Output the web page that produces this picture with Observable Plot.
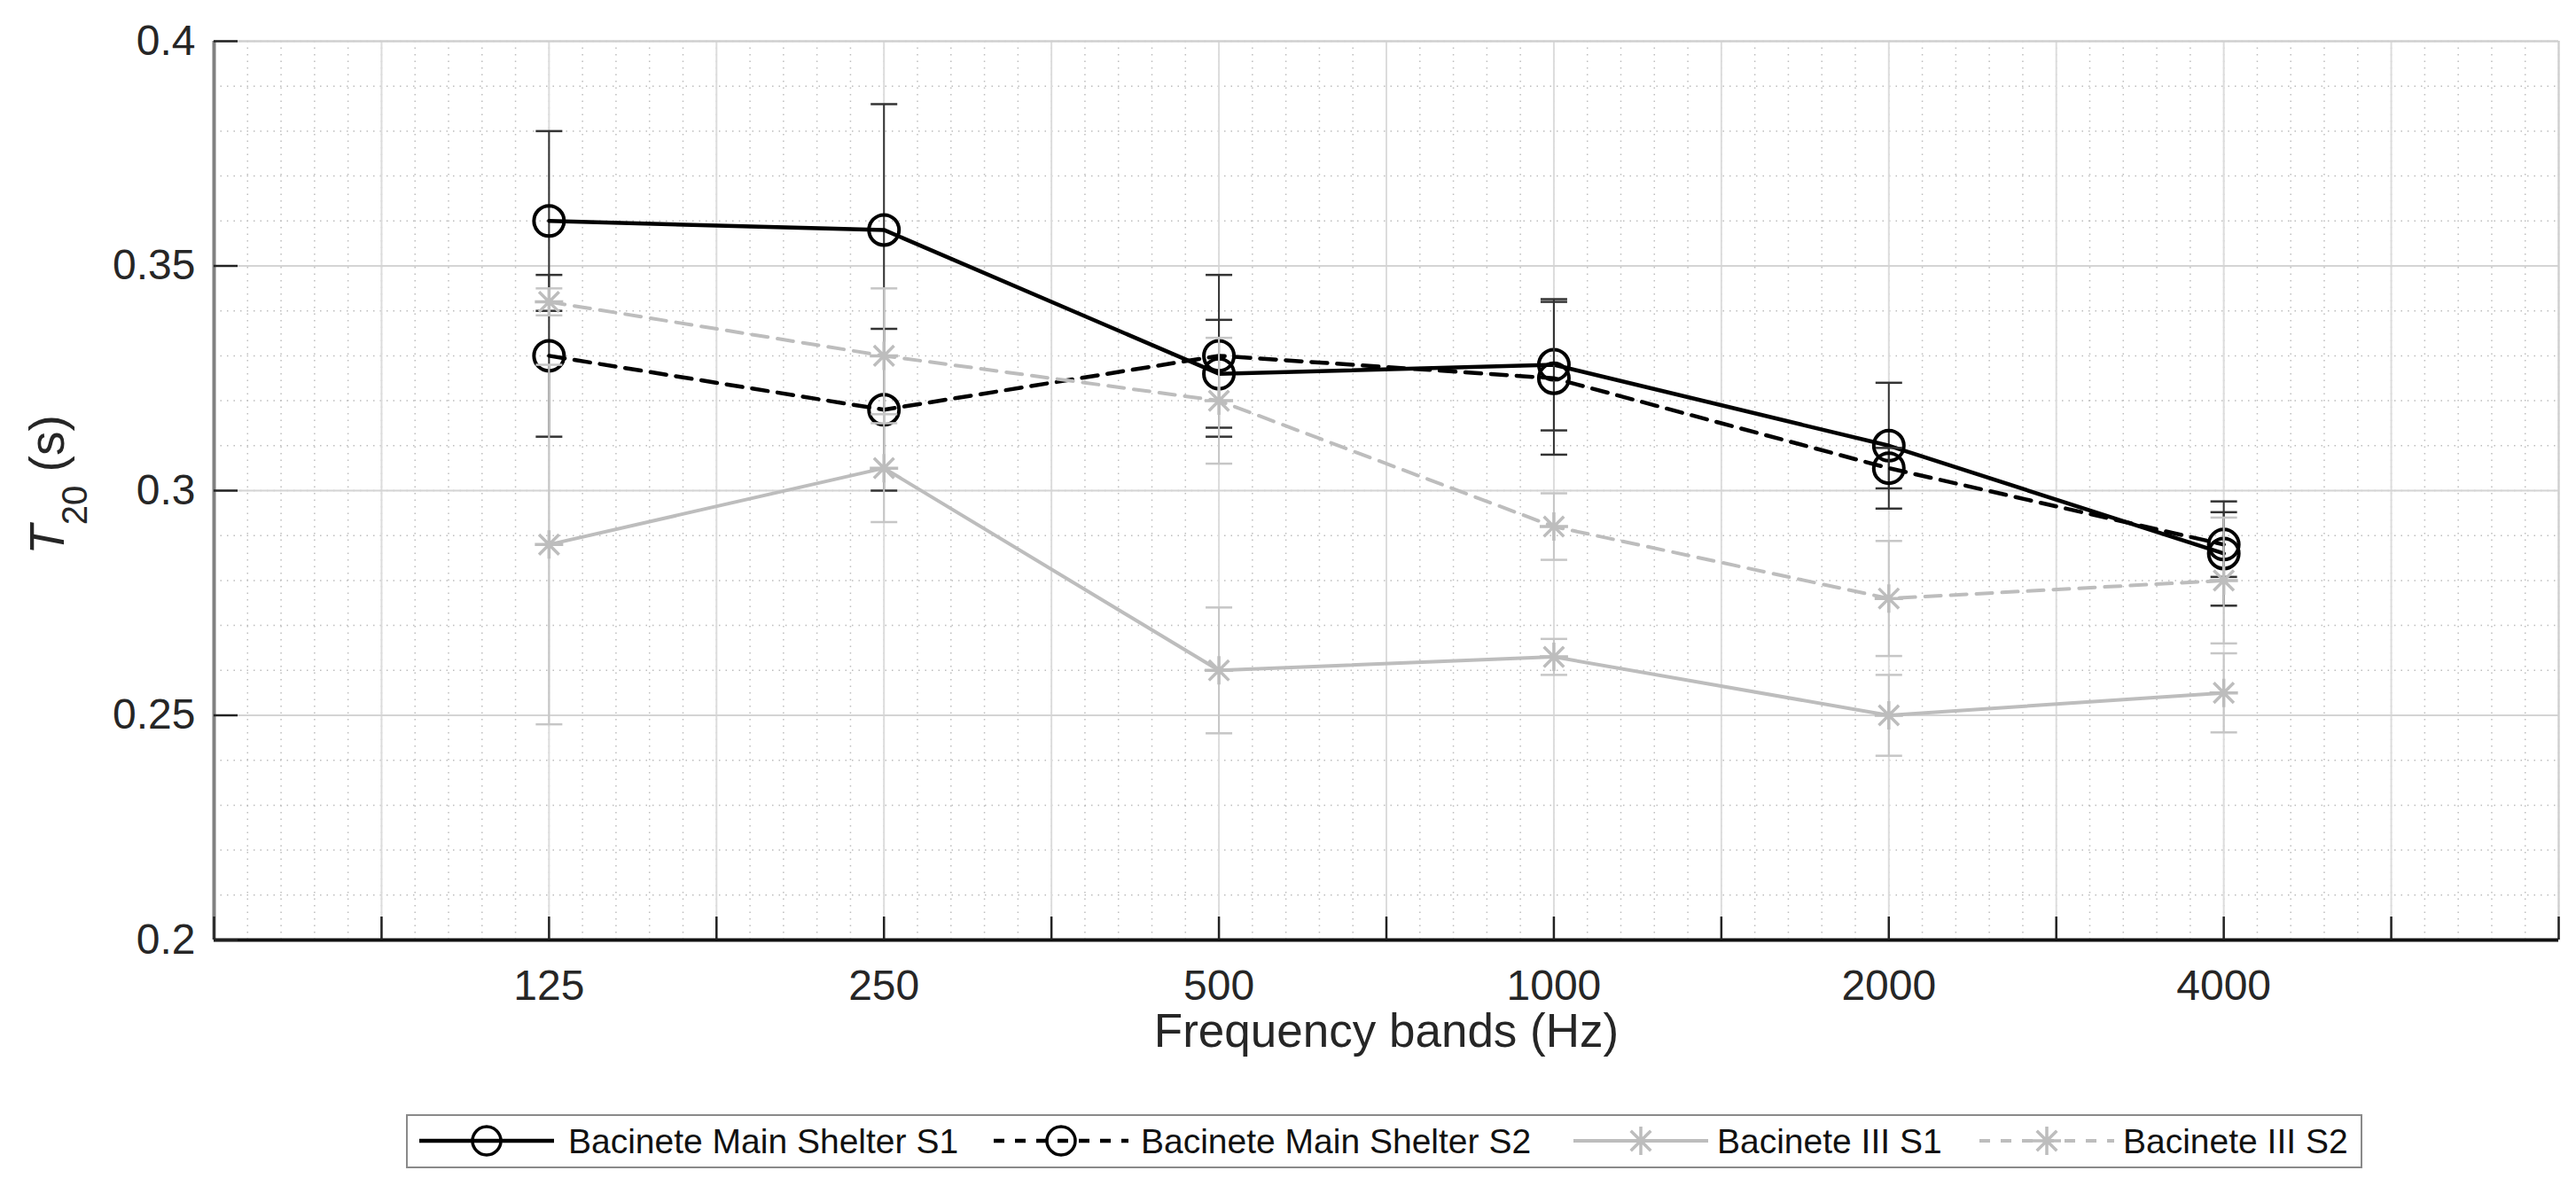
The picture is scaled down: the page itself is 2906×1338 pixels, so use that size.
<!DOCTYPE html>
<html><head><meta charset="utf-8">
<script src="https://cdn.jsdelivr.net/npm/d3@7"></script>
<script src="https://cdn.jsdelivr.net/npm/@observablehq/plot@0.6"></script>
<style>
body{margin:0;background:#fff;font-family:"Liberation Sans",Arial,Helvetica,sans-serif;}
#chart{width:2906px;position:relative;}
#legend{position:relative;margin-left:458px;margin-top:27px;width:2203px;height:57px;border:2px solid #8a8a8a;}
.sw{position:absolute;top:8px;}
.lt{position:absolute;top:6px;font-size:39px;color:#111;line-height:45px;white-space:nowrap;}
</style></head><body>
<div id="chart"></div>
<div id="legend"></div>
<script>
// ---- data ----
const bands = ["125", "250", "500", "1000", "2000", "4000"];
const seriesNames = ["Bacinete Main Shelter S1", "Bacinete Main Shelter S2", "Bacinete III S1", "Bacinete III S2"];
const mainS1 = [0.360, 0.358, 0.326, 0.328, 0.310, 0.286];
const mainS1Err = [0.020, 0.028, 0.012, 0.0146, 0.014, 0.0116];
const mainS2 = [0.330, 0.318, 0.330, 0.325, 0.305, 0.288];
const mainS2Err = [0.018, 0.018, 0.018, 0.017, 0.0045, 0.0072];
const iiiS1 = [0.288, 0.305, 0.260, 0.263, 0.250, 0.255];
const iiiS1Err = [0.040, 0.012, 0.014, 0.004, 0.009, 0.0088];
const iiiS2 = [0.342, 0.330, 0.320, 0.292, 0.276, 0.280];
const iiiS2Err = [0.003, 0.015, 0.014, 0.0074, 0.0128, 0.014];
const yTicks = [0.2, 0.25, 0.3, 0.35, 0.4];
const xDomain = [0, 7];
const yDomain = [0.2, 0.4];
const xLabel = "Frequency bands (Hz)";

// ---- layout / style ----
const W = 2906, H = 1230, mL = 241, mR = 20, mT = 46, mB = H - 1060;
const plotW = W - mL - mR, plotH = H - mT - mB;
const FONT = "Liberation Sans, Arial, Helvetica, sans-serif";
const TXT = "#262626";
const GRAY = "#bdbdbd";

const hline = {draw(ctx, size) {const r = Math.sqrt(size / Math.PI); ctx.moveTo(-r, 0); ctx.lineTo(r, 0);}};
const asterisk = {draw(ctx, size) {
  const r = Math.sqrt(size / Math.PI), d = r * Math.SQRT1_2;
  ctx.moveTo(-r, 0); ctx.lineTo(r, 0); ctx.moveTo(0, -r); ctx.lineTo(0, r);
  ctx.moveTo(-d, -d); ctx.lineTo(d, d); ctx.moveTo(-d, d); ctx.lineTo(d, -d);
}};

const styles = [
  {values: mainS1, err: mainS1Err, color: "#000", dash: null, symbol: "circle", bar: "#333", w: 4.5, r: 17},
  {values: mainS2, err: mainS2Err, color: "#000", dash: "18,11", symbol: "circle", bar: "#333", w: 4.5, r: 17},
  {values: iiiS1, err: iiiS1Err, color: GRAY, dash: null, symbol: asterisk, bar: "#c6c6c6", w: 4, r: 16},
  {values: iiiS2, err: iiiS2Err, color: GRAY, dash: "18,11", symbol: asterisk, bar: "#c6c6c6", w: 4, r: 16}
];

const xMajor = d3.range(0, 14.5, 1).map(d => d / 2);
const xMinor = d3.range(0, 70.5, 1).map(d => d / 10);
const yMinor = d3.range(20, 40.5, 1).map(d => d / 100);

const marks = [
  Plot.gridX({ticks: xMinor, stroke: "#bdbdbd", strokeOpacity: 1, strokeWidth: 1.5, strokeDasharray: "1.5,6"}),
  Plot.gridY({ticks: yMinor, stroke: "#bdbdbd", strokeOpacity: 1, strokeWidth: 1.5, strokeDasharray: "1.5,6"}),
  Plot.gridX({ticks: xMajor, stroke: "#dcdcdc", strokeOpacity: 1, strokeWidth: 2}),
  Plot.gridY({ticks: yTicks, stroke: "#d4d4d4", strokeOpacity: 1, strokeWidth: 2}),
  Plot.ruleY([yDomain[1]], {stroke: "#cfcfcf", strokeWidth: 2}),
  Plot.ruleX([xDomain[1]], {stroke: "#cfcfcf", strokeWidth: 2}),
  Plot.ruleX([xDomain[0]], {stroke: "#808080", strokeWidth: 4}),
  Plot.ruleY([yDomain[0]], {stroke: "#111", strokeWidth: 4}),
  Plot.tickY(yTicks, {y: d => d, stroke: "#222", strokeWidth: 2.5, insetRight: plotW - 27}),
  Plot.tickX(xMajor, {x: d => d, stroke: "#222", strokeWidth: 2.5, insetTop: plotH - 26}),
  Plot.axisY({ticks: yTicks, tickSize: 0, tickPadding: 21, tickFormat: d3.format("~g"), fontSize: 48, color: TXT, label: null}),
  Plot.axisX({ticks: [1, 2, 3, 4, 5, 6], tickSize: 0, tickPadding: 33, tickFormat: d => bands[d - 1], fontSize: 48, color: TXT, label: null}),
  Plot.text([xLabel], {frameAnchor: "bottom", dy: 120, fontSize: 53, fill: TXT})
];

styles.forEach((s, k) => {
  const rows = s.values.map((v, i) => ({x: i + 1, y: v, lo: v - s.err[i], hi: v + s.err[i]}));
  marks.push(
    Plot.ruleX(rows, {x: "x", y1: "lo", y2: "hi", stroke: s.bar, strokeWidth: 2}),
    Plot.dot(rows, {x: "x", y: "lo", symbol: hline, r: 15, stroke: s.bar, strokeWidth: 2.5}),
    Plot.dot(rows, {x: "x", y: "hi", symbol: hline, r: 15, stroke: s.bar, strokeWidth: 2.5}),
    Plot.line(rows, {x: "x", y: "y", stroke: s.color, strokeWidth: s.w, strokeDasharray: s.dash}),
    Plot.dot(rows, {x: "x", y: "y", symbol: s.symbol, r: s.r, stroke: s.color, fill: "none", strokeWidth: s.symbol === "circle" ? 4 : 3.5})
  );
});

const plot = Plot.plot({
  width: W, height: H,
  marginLeft: mL, marginRight: mR, marginTop: mT, marginBottom: mB,
  x: {domain: xDomain, label: null},
  y: {domain: yDomain, label: null},
  style: {fontFamily: FONT, background: "white", color: TXT, overflow: "visible"},
  marks
});

// y-axis label with italic T and subscript 20
const yl = d3.select(plot).append("text")
  .attr("transform", "translate(72,547) rotate(-90)")
  .attr("text-anchor", "middle").attr("font-size", 55).attr("fill", TXT).attr("font-family", FONT);
yl.append("tspan").attr("font-style", "italic").text("T");
yl.append("tspan").attr("font-size", 40).attr("dy", 26).text("20");
yl.append("tspan").attr("dy", -26).text(" (s)");

document.getElementById("chart").appendChild(plot);

// ---- legend ----
const legend = document.getElementById("legend");
const swX = [13, 661, 1315, 1773];
const txX = [181, 827, 1477, 1935];
styles.forEach((s, k) => {
  const ns = "http://www.w3.org/2000/svg";
  const svg = document.createElementNS(ns, "svg");
  svg.setAttribute("width", 152); svg.setAttribute("height", 40);
  svg.setAttribute("class", "sw"); svg.style.left = swX[k] + "px";
  const line = document.createElementNS(ns, "line");
  line.setAttribute("x1", 0); line.setAttribute("x2", 152); line.setAttribute("y1", 20); line.setAttribute("y2", 20);
  line.setAttribute("stroke", s.color); line.setAttribute("stroke-width", s.w);
  if (s.dash) line.setAttribute("stroke-dasharray", "12,12");
  svg.appendChild(line);
  const p = document.createElementNS(ns, "path");
  const sym = s.symbol === "circle" ? d3.symbolCircle : s.symbol;
  p.setAttribute("d", d3.symbol(sym, 16 * 16 * Math.PI)());
  p.setAttribute("transform", "translate(76,20)");
  p.setAttribute("fill", "none"); p.setAttribute("stroke", s.color); p.setAttribute("stroke-width", 3.5);
  svg.appendChild(p);
  legend.appendChild(svg);
  const t = document.createElement("div");
  t.className = "lt"; t.style.left = txX[k] + "px"; t.textContent = seriesNames[k];
  legend.appendChild(t);
});
</script>
</body></html>
